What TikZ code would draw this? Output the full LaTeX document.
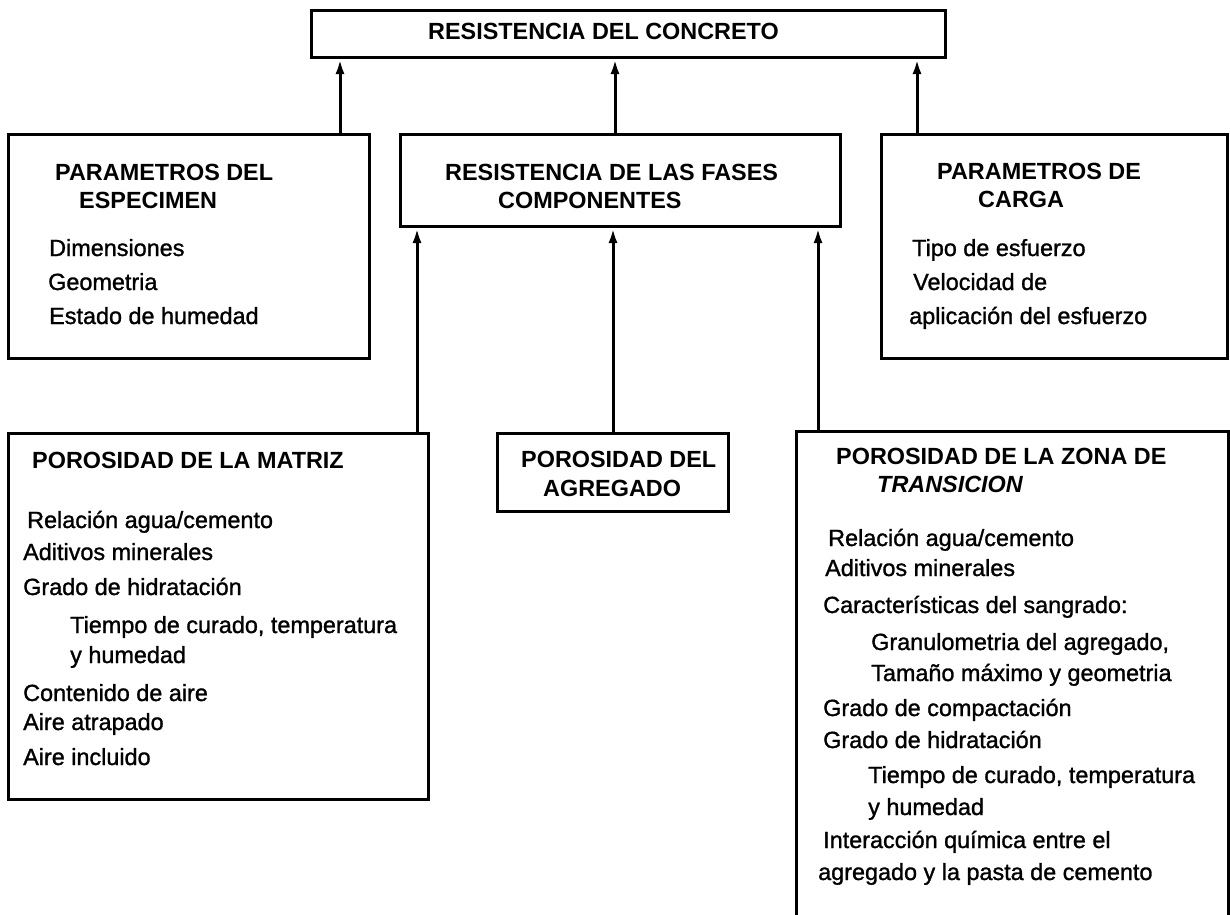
\documentclass[tikz,border=0pt]{standalone}
\usepackage{fontspec}
\setmainfont{Liberation Sans}
\newfontfamily\heavyfam[FakeBold=1.2]{Liberation Sans}
\usetikzlibrary{arrows.meta}
\newcommand\mkHead{\fontsize{23.4}{28}\selectfont\bfseries}
\newcommand\mkItem{\fontsize{23.4}{28}\selectfont\heavyfam}
\begin{document}
\begin{tikzpicture}[x=1pt,y=-1pt,
  box/.style={draw, line width=3pt, rectangle, inner sep=0pt, anchor=north west},
  hd/.style={anchor=base west, inner sep=0pt, font=\mkHead},
  hdi/.style={anchor=base west, inner sep=0pt, font=\mkHead\itshape},
  itm/.style={anchor=base west, inner sep=0pt, font=\mkItem},
  arr/.style={line width=3pt, -{Latex[length=15pt,width=9pt]}}]
\useasboundingbox (0,0) rectangle (1230,914);
\clip (0,0) rectangle (1230,914);
\fill[white] (0,0) rectangle (1230,914);

% boxes
\node[box, minimum width=634pt, minimum height=47pt] (top) at (310,9) {};
\node[box, minimum width=361pt, minimum height=224pt] (lp) at (7,133) {};
\node[box, minimum width=440pt, minimum height=92pt] (mid) at (399,133) {};
\node[box, minimum width=346pt, minimum height=224pt] (rp) at (880,133) {};
\node[box, minimum width=420pt, minimum height=366pt] (lb) at (7,432) {};
\node[box, minimum width=231pt, minimum height=78pt] (mb) at (496,432) {};
\node[box, minimum width=432pt, minimum height=520pt] (rb) at (795,430) {};

% connector columns
\coordinate (c1) at (340,0);
\coordinate (c2) at (615,0);
\coordinate (c3) at (917,0);
\coordinate (d1) at (417,0);
\coordinate (d2) at (613,0);
\coordinate (d3) at (818,0);

\draw[arr] (lp.north -| c1) -- (top.south -| c1);
\draw[arr] (mid.north -| c2) -- (top.south -| c2);
\draw[arr] (rp.north -| c3) -- (top.south -| c3);
\draw[arr] (lb.north -| d1) -- (mid.south -| d1);
\draw[arr] (mb.north -| d2) -- (mid.south -| d2);
\draw[arr] (rb.north -| d3) -- (mid.south -| d3);

% top
\node[hd] (t0) at (428,39) {RESISTENCIA DEL CONCRETO};

% left parameters
\node[hd] (l1) at (55,180) {PARAMETROS DEL};
\node[hd] (l2) at (79,208) {ESPECIMEN};
\node[itm] (l3) at (49,256) {Dimensiones};
\node[itm] (l4) at (48,290) {Geometria};
\node[itm] (l5) at (49,324) {Estado de humedad};

% middle
\node[hd] (m1) at (445,180) {RESISTENCIA DE LAS FASES};
\node[hd] (m2) at (498,208) {COMPONENTES};

% right parameters
\node[hd] (r1) at (937,179) {PARAMETROS DE};
\node[hd] (r2) at (978,207) {CARGA};
\node[itm] (r3) at (912,256) {Tipo de esfuerzo};
\node[itm] (r4) at (913,290) {Velocidad de};
\node[itm] (r5) at (909,324) {aplicación del esfuerzo};

% left bottom
\node[hd] (a0) at (32,468) {POROSIDAD DE LA MATRIZ};
\node[itm] (a1) at (27,528) {Relación agua/cemento};
\node[itm] (a2) at (23,560) {Aditivos minerales};
\node[itm] (a3) at (23,595) {Grado de hidratación};
\node[itm] (a4) at (70,633) {Tiempo de curado, temperatura};
\node[itm] (a5) at (70,663) {y humedad};
\node[itm] (a6) at (23,701) {Contenido de aire};
\node[itm] (a7) at (23,730) {Aire atrapado};
\node[itm] (a8) at (23,765) {Aire incluido};

% middle bottom
\node[hd] (b1) at (521,467) {POROSIDAD DEL};
\node[hd] (b2) at (543,496) {AGREGADO};

% right bottom
\node[hd] (z0) at (836,464) {POROSIDAD DE LA ZONA DE};
\node[hdi] (z1) at (877,492) {TRANSICION};
\node[itm] (z2) at (828,546) {Relación agua/cemento};
\node[itm] (z3) at (825,576) {Aditivos minerales};
\node[itm] (z4) at (823,613) {Características del sangrado:};
\node[itm] (z5) at (871,650) {Granulometria del agregado,};
\node[itm] (z6) at (871,681) {Tamaño máximo y geometria};
\node[itm] (z7) at (823,716) {Grado de compactación};
\node[itm] (z8) at (823,748) {Grado de hidratación};
\node[itm] (z9) at (868,783) {Tiempo de curado, temperatura};
\node[itm] (z10) at (868,815) {y humedad};
\node[itm] (z11) at (823,848) {Interacción química entre el};
\node[itm] (z12) at (818,880) {agregado y la pasta de cemento};
\end{tikzpicture}
\end{document}
